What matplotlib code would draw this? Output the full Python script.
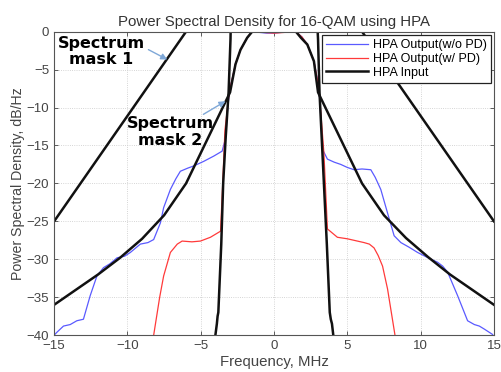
"""PSD of 16-QAM through an HPA, with spectrum masks."""

import matplotlib

matplotlib.use("Agg")
import matplotlib.pyplot as plt

# HPA output without predistortion
blue_freq = [-15, -14.8, -14.36, -13.9, -13.45, -13.0, -12.54, -12.08, -11.63, -11.2,
             -10.7, -10.2, -9.8, -9.12, -8.6, -8.21, -7.75, -7.53, -7.07, -6.7,
             -6.39, -5.9, -5.48, -4.8, -4.11, -3.54, -3.3, -3.2, -3.05, -2.63,
             -2.29, -1.83, -1.49, -1.0, -0.5, 0, 0.5, 1.0, 1.47, 1.9,
             2.27, 2.72, 3.06, 3.2, 3.3, 3.64, 4.1, 4.55, 5.0, 5.46,
             6.0, 6.6, 6.9, 7.28, 7.74, 8.19, 8.65, 9.2, 9.79, 10.5,
             11.16, 11.5, 11.84, 12.52, 13.2, 13.66, 14.0, 14.34, 14.9, 15]
blue_psd = [-40, -39.6, -38.8, -38.6, -38.1, -37.9, -34.8, -32.2, -31.1, -30.6,
            -29.8, -29.6, -29.1, -28.0, -27.8, -27.4, -25.2, -23.2, -20.8, -19.4,
            -18.4, -18.0, -17.7, -17.1, -16.4, -15.75, -14.0, -11.0, -7.9, -4.3,
            -2.4, -0.8, 0, -0.1, -0.2, -0.2, -0.1, -0.1, 0, -0.7,
            -1.7, -3.9, -7.4, -11.5, -15.5, -16.8, -17.2, -17.5, -17.9, -18.2,
            -18.1, -18.2, -19.2, -20.8, -23.9, -26.9, -27.8, -28.4, -29.1, -29.8,
            -30.4, -30.9, -31.7, -34.8, -38.1, -38.6, -38.8, -39.2, -39.9, -40.3]

# HPA output with predistortion
red_freq = [-8.3, -8.21, -7.8, -7.53, -7.07, -6.6, -6.27, -5.6, -5.02, -4.34,
            -3.65, -3.5, -3.35, -3.05, -2.63, -2.29, -1.83, -1.49, 0, 1.47,
            1.9, 2.27, 2.72, 3.06, 3.4, 3.64, 4.32, 5.0, 6.14, 6.5,
            6.82, 7.1, 7.4, 7.74, 8.24, 8.3]
red_psd = [-41, -40, -35, -32.2, -29.1, -28.0, -27.6, -27.7, -27.6, -27.1,
           -26.3, -20, -13, -7.9, -4.3, -2.4, -0.8, 0, -0.2, 0,
           -0.7, -1.7, -3.9, -7.4, -16, -26.0, -27.1, -27.3, -27.8, -28.0,
           -28.5, -29.5, -30.9, -33.9, -39.9, -41]

# HPA input
input_freq = [-4.1, -4.0, -3.9, -3.85, -3.8, -3.6, -3.47, -3.3, -3.1, -2.97,
              -2.95, 2.95, 3.0, 3.1, 3.4, 3.6, 3.8, 3.87, 3.95, 4.1]
input_psd = [-42, -40, -38.5, -37.5, -37, -28, -20, -14, -8, -1,
             1, 1, -1, -8, -20, -28, -37, -37.9, -38.5, -41]

# spectrum masks
mask1_freq = [-15, -6, 6, 15]
mask1_psd = [-25, 0, 0, -25]

mask2_freq = [-15, -13.5, -12, -10.5, -9, -7.5, -6, -4.5, -3, -2.63,
              -2.29, -1.83, -1.49, 1.49, 1.83, 2.27, 2.72, 3, 4.5, 6,
              7.5, 9, 10.5, 12, 13.5, 15]
mask2_psd = [-36, -34, -32, -29.8, -27.3, -24.2, -20, -14, -8, -4.3,
             -2.4, -0.8, 0, 0, -0.8, -1.7, -3.9, -8, -14, -20,
             -24.2, -27.2, -29.7, -32, -34, -36]

x_ticks = [-15, -10, -5, 0, 5, 10, 15]
y_ticks = [0, -5, -10, -15, -20, -25, -30, -35, -40]

plt.rcParams["font.family"] = ["Liberation Sans", "DejaVu Sans"]

fig = plt.figure(figsize=(5.01, 3.72), dpi=100)
ax = fig.add_axes([0.108, 0.099, 0.878, 0.816])

ax.plot(blue_freq, blue_psd, color="#5a5aff", lw=0.9, label="HPA Output(w/o PD)")
ax.plot(red_freq, red_psd, color="#ff3a3a", lw=0.9, label="HPA Output(w/ PD)")
ax.plot(input_freq, input_psd, color="#111111", lw=1.8, label="HPA Input")
ax.plot(mask1_freq, mask1_psd, color="#111111", lw=1.8, label="_nolegend_")
ax.plot(mask2_freq, mask2_psd, color="#111111", lw=1.8, label="_nolegend_")

ax.set_xlim(-15, 15)
ax.set_ylim(-40, 0)
ax.set_xticks(x_ticks)
ax.set_yticks(y_ticks)
ax.tick_params(direction="in", top=True, right=True, labelsize=9.5,
               colors="#444444", length=3, width=0.6)
ax.grid(True, linestyle=":", color="#c8c8c8", lw=0.6)
for spine in ax.spines.values():
    spine.set_color("#555555")
    spine.set_linewidth(0.8)

ax.set_title("Power Spectral Density for 16-QAM using HPA", fontsize=10.8,
             color="#333333", pad=4)
ax.set_xlabel("Frequency, MHz", fontsize=10.8, color="#444444", labelpad=2)
ax.set_ylabel("Power Spectral Density, dB/Hz", fontsize=10.2, color="#444444",
              labelpad=1)

leg = ax.legend(loc="upper right", fontsize=9, handlelength=3.3,
                borderaxespad=0.25, fancybox=False, framealpha=1,
                borderpad=0.35, labelspacing=0.15, handletextpad=0.4)
leg.get_frame().set_edgecolor("#222222")
leg.get_frame().set_linewidth(0.9)

arrow = dict(arrowstyle="-|>", color="#7fa8d8", lw=1.0, mutation_scale=9,
             shrinkA=0, shrinkB=0)
ax.text(-11.8, -2.6, "Spectrum\nmask 1", ha="center", va="center",
        fontsize=11.5, fontweight="bold", family=["DejaVu Sans"], linespacing=1.12)
ax.annotate("", xy=(-7.28, -3.68), xytext=(-8.57, -2.37), arrowprops=arrow)
ax.text(-7.07, -13.2, "Spectrum\nmask 2", ha="center", va="center",
        fontsize=11.5, fontweight="bold", family=["DejaVu Sans"], linespacing=1.12)
ax.annotate("", xy=(-3.31, -9.17), xytext=(-4.82, -10.9), arrowprops=arrow)

fig.savefig("out.png", dpi=100)
